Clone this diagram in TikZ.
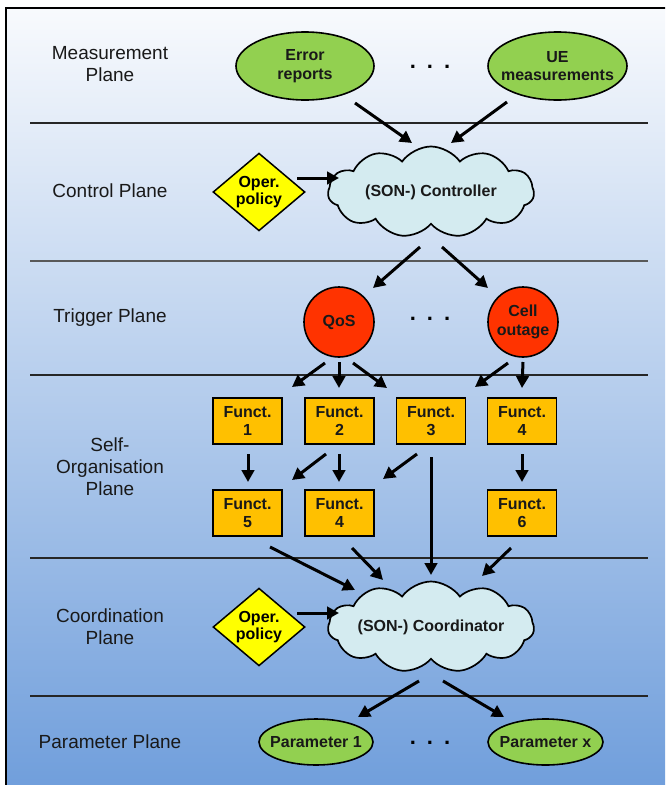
\documentclass[tikz,border=0pt]{standalone}
\usepackage{fontspec}
\setmainfont{Liberation Sans}
\usetikzlibrary{shapes.geometric,shapes.symbols,arrows.meta,calc}
\definecolor{grn}{HTML}{92D050}
\definecolor{ylw}{HTML}{FFFF00}
\definecolor{rd}{HTML}{FF3300}
\definecolor{org}{HTML}{FFC000}
\definecolor{cld}{HTML}{D4EBF0}
\definecolor{bgtop}{HTML}{F8FAFD}
\definecolor{bgbot}{HTML}{6E9DDB}
\begin{document}
\begin{tikzpicture}[x=1pt,y=-1pt,
  lbl/.style={font=\fontsize{19}{22}\selectfont, align=center, text=black!90},
  bt/.style={font=\fontsize{16}{18.5}\selectfont\bfseries, align=center, text=black!90},
  ell/.style={ellipse, draw, line width=1.6pt, fill=grn, inner sep=0pt},
  circ/.style={circle, draw, line width=1.6pt, fill=rd, inner sep=0pt, minimum size=70pt},
  fbox/.style={rectangle, draw, line width=1.6pt, fill=org, inner sep=0pt,
               minimum width=69pt, minimum height=46pt, bt},
  pol/.style={diamond, draw, line width=1.5pt, fill=ylw, inner sep=0pt,
              minimum width=92pt, minimum height=70pt,
              font=\fontsize{16}{17}\selectfont\bfseries, align=center},
  cloudsty/.style={cloud, cloud puffs=11, cloud puff arc=110, cloud ignores aspect,
              draw, line width=1.7pt, fill=cld, inner sep=0pt,
              minimum width=206pt, minimum height=91pt},
  dots/.style={font=\fontsize{22}{22}\selectfont\bfseries, anchor=base, inner sep=0pt},
  sep/.style={line width=1.1pt, black!85},
  arr/.style={line width=3pt, -{Triangle[length=12pt,width=12.5pt]}},
]
\useasboundingbox (0,0) rectangle (665,785);
\clip (0,0) rectangle (665,785);
% background and frame
\shade[top color=bgtop, bottom color=bgbot] (6,8) rectangle (700,800);
\draw[line width=2.2pt] (6,800) -- (6,8) -- (700,8);
% separators
\draw[sep] (30,123) -- (648,123);
\draw[line width=1.6pt, black!65] (30,261) -- (648,261);
\draw[sep] (30,375) -- (648,375);
\draw[sep] (30,558) -- (648,558);
\draw[sep] (30,696) -- (648,696);
% plane labels
\node[lbl] (lm) at (110,64) {Measurement\\Plane};
\node[lbl] (lc) at (110,191) {Control Plane};
\node[lbl] (lt) at (110,318) {Trigger Plane};
\node[lbl] (ls) at (110,467) {Self-\\Organisation\\Plane};
\node[lbl] (lco) at (110,627) {Coordination\\Plane};
\node[lbl] (lp) at (110,742) {Parameter Plane};
% measurement plane
\node[ell, minimum width=138pt, minimum height=68pt, label={[bt]center:{Error\\reports}}] (er) at (305,66) {};
\node[ell, minimum width=139pt, minimum height=68pt, label={[bt]center:{UE\\measurements}}] (ue) at (557.5,66) {};
\node[dots] (d1) at (430,68) {.\hspace{11pt}.\hspace{11pt}.};
% control plane
\node[pol] (pol1) at (259,192) {Oper.\\policy};
\node[cloudsty, label={[bt]center:{(SON-) Controller}}] (ctrl) at (431,192) {};
% trigger plane
\node[circ, label={[bt]center:{QoS}}] (qos) at (339,322) {};
\node[circ, label={[bt]center:{Cell\\outage}}] (co) at (523,322) {};
\node[dots] (d2) at (430,320) {.\hspace{11pt}.\hspace{11pt}.};
% self-organisation plane
\node[fbox] (f1) at (247.5,421) {Funct.\\1};
\node[fbox] (f2) at (339.5,421) {Funct.\\2};
\node[fbox] (f3) at (431,421) {Funct.\\3};
\node[fbox] (f4) at (522,421) {Funct.\\4};
\node[fbox] (f5) at (247.5,513) {Funct.\\5};
\node[fbox] (f4b) at (339.5,513) {Funct.\\4};
\node[fbox] (f6) at (522,513) {Funct.\\6};
% coordination plane
\node[pol] (pol2) at (259,627) {Oper.\\policy};
\node[cloudsty, label={[bt]center:{(SON-) Coordinator}}] (coord) at (431,627) {};
% parameter plane
\node[ell, minimum width=114pt, minimum height=46pt, label={[bt]center:{Parameter 1}}] (p1) at (316,742) {};
\node[ell, minimum width=115pt, minimum height=46pt, label={[bt]center:{Parameter x}}] (px) at (545.5,742) {};
\node[dots] (d3) at (430,744) {.\hspace{11pt}.\hspace{11pt}.};
% connectors
\draw[arr] ($(er)+(50,37)$) -- ($(ctrl)+(-19,-49)$);
\draw[arr] ($(ue)+(-50.5,36)$) -- ($(ctrl)+(20,-49)$);
\draw[arr] ($(pol1)+(38,-14)$) -- ($(ctrl)+(-92,-14)$);
\draw[arr] ($(ctrl)+(-11,55)$) -- ($(qos)+(34,-34)$);
\draw[arr] ($(ctrl)+(11,55)$) -- ($(co)+(-35,-34)$);
\draw[arr] ($(qos)+(-14,41)$) -- ($(f1)+(44.5,-34)$);
\draw[arr] ($(qos)+(0,40)$) -- ($(f2)+(-0.5,-33)$);
\draw[arr] ($(qos)+(14,41)$) -- ($(f3)+(-44,-33)$);
\draw[arr] ($(co)+(-15,41)$) -- ($(f3)+(44,-34)$);
\draw[arr] ($(co)+(0,40)$) -- ($(f4)+(0,-33)$);
\draw[arr] ($(f1)+(0.5,33)$) -- ($(f5)+(0.5,-31)$);
\draw[arr] ($(f2)+(-0.5,33)$) -- ($(f4b)+(-0.5,-31)$);
\draw[arr] ($(f2)+(-13.5,33)$) -- ($(f5)+(44.5,-33)$);
\draw[arr] ($(f3)+(-14,33)$) -- ($(f4b)+(43.5,-34)$);
\draw[arr] ($(f3)+(0,36)$) -- ($(coord)+(0,-52)$);
\draw[arr] ($(f4)+(0,33)$) -- ($(f6)+(0,-31)$);
\draw[arr] ($(f5)+(22.5,34)$) -- ($(coord)+(-76,-37)$);
\draw[arr] ($(f4b)+(12.5,35)$) -- ($(coord)+(-48,-47)$);
\draw[arr] ($(f6)+(-11,35)$) -- ($(coord)+(51,-51)$);
\draw[arr] ($(pol2)+(38,-14)$) -- ($(coord)+(-92,-14)$);
\draw[arr] ($(coord)+(-12,54)$) -- ($(p1)+(42,-25)$);
\draw[arr] ($(coord)+(12,54)$) -- ($(px)+(-41.5,-25)$);
\end{tikzpicture}
\end{document}
